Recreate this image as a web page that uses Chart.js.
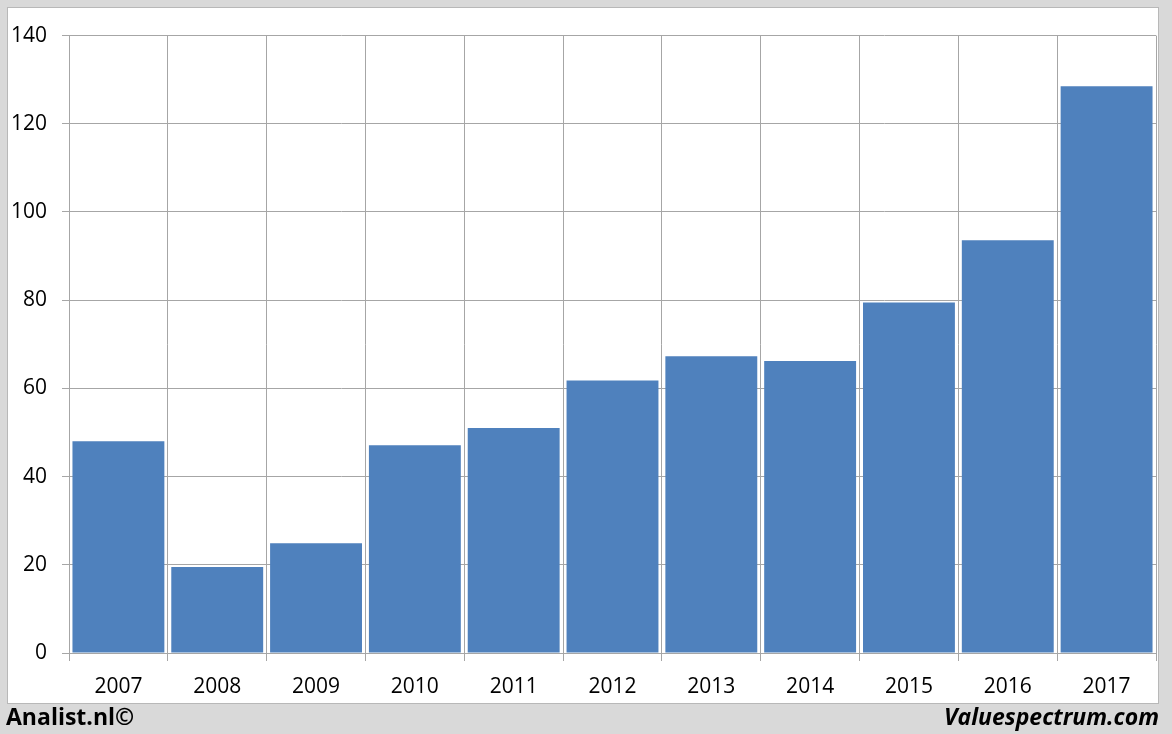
<!DOCTYPE html>
<html>
<head>
<meta charset="utf-8">
<script src="https://cdn.jsdelivr.net/npm/chart.js@4/dist/chart.umd.min.js"></script>
<style>
  html, body { margin: 0; padding: 0; }
  body { width: 1172px; height: 734px; background: #d9d9d9; position: relative; overflow: hidden; font-family: "Open Sans", sans-serif; }
  #panel { position: absolute; left: 7px; top: 7px; width: 1150px; height: 695px; background: #fff; border: 1px solid #b8b8b8; }
  #chart { display: block; }
  .credit { position: absolute; top: 700px; font-size: 23px; line-height: 32px; font-weight: bold; color: #000; }
  #left { left: 6px; }
  #right { right: 13px; font-style: italic; }
</style>
</head>
<body>
<div id="panel"><canvas id="chart" width="1150" height="695"></canvas></div>
<div class="credit" id="left">Analist.nl©</div>
<div class="credit" id="right">Valuespectrum.com</div>
<script>
"use strict"

//Chart data
const years = ["2007", "2008", "2009", "2010", "2011", "2012", "2013", "2014", "2015", "2016", "2017"];
const values = [48.0, 19.5, 24.9, 47.1, 51.0, 61.8, 67.3, 66.2, 79.5, 93.6, 128.5];
const yTicks = [0, 20, 40, 60, 80, 100, 120, 140];

const gridColor = "#a6a6a6";
const tickFont = { family: "Open Sans", size: 21 };

new Chart(document.getElementById("chart"), {
    type: "bar",
    data: {
        labels: years,
        datasets: [{
            data: values,
            backgroundColor: "#4f81bd",
            borderWidth: 0,
            categoryPercentage: 1,
            barPercentage: 0.93
        }]
    },
    options: {
        responsive: false,
        animation: false,
        layout: { padding: { top: 26, right: 2, left: 0, bottom: 0 } },
        plugins: { legend: { display: false }, tooltip: { enabled: false } },
        scales: {
            x: {
                afterFit: function(scale) { scale.height = 50; },
                grid: { offset: true, color: gridColor, tickLength: 8, lineWidth: 1 },
                border: { color: gridColor },
                ticks: { color: "#000", font: tickFont, padding: 13, maxRotation: 0 }
            },
            y: {
                min: 0,
                max: 140,
                afterFit: function(scale) { scale.width = 61; },
                afterBuildTicks: function(scale) { scale.ticks = yTicks.map(v => ({ value: v })); },
                grid: { color: gridColor, tickLength: 7, lineWidth: 1 },
                border: { color: gridColor },
                ticks: { color: "#000", font: tickFont, padding: 15 }
            }
        }
    }
});
</script>
</body>
</html>
